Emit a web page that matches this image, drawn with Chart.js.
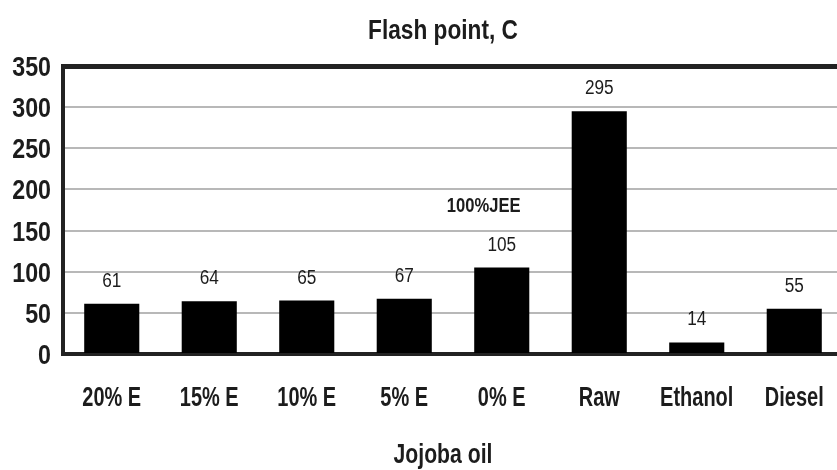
<!DOCTYPE html>
<html>
<head>
<meta charset="utf-8">
<script src="https://cdn.jsdelivr.net/npm/chart.js@4"></script>
<style>
  html, body { margin: 0; padding: 0; background: #fff; overflow: hidden; }
  #wrap { width: 837px; height: 470px; overflow: hidden; }
  canvas { display: block; }
</style>
</head>
<body>
<div id="wrap"><canvas id="c" width="843" height="470"></canvas></div>
<script>
// Flash point of jojoba oil blends and reference fuels
const categories = ['20% E', '15% E', '10% E', '5% E', '0% E', 'Raw', 'Ethanol', 'Diesel'];
const flashPoint = [61, 64, 65, 67, 105, 295, 14, 55];
const noteLabels = ['', '', '', '', '100%JEE', '', '', ''];
const yMin = 0, yMax = 350, yStep = 50;
const chartTitle = 'Flash point, C';
const xTitle = 'Jojoba oil';

const FONT = "'Liberation Sans', Arial, sans-serif";
const INK = '#1c1c1c';

// Text drawn in a narrow, tall face: horizontal squeeze around the anchor point
function narrowText(ctx, text, x, y, font, sx, align) {
  ctx.save();
  ctx.translate(x, y);
  ctx.scale(sx, 1);
  ctx.font = font;
  ctx.textAlign = align;
  ctx.textBaseline = 'alphabetic';
  ctx.fillStyle = INK;
  ctx.fillText(text, 0, 0);
  ctx.restore();
}

const textLayer = {
  id: 'textLayer',
  afterDraw(chart) {
    const ctx = chart.ctx;
    const xs = chart.scales.x, ys = chart.scales.y;
    const area = chart.chartArea;

    // title
    narrowText(ctx, chartTitle, 443, 39, 'bold 28px ' + FONT, 0.81, 'center');

    // y tick labels
    ys.ticks.forEach(t => {
      const y = ys.getPixelForValue(t.value);
      narrowText(ctx, String(t.value), 51, y + 10, 'bold 28px ' + FONT, 0.83, 'right');
    });

    // x tick labels
    categories.forEach((c, i) => {
      narrowText(ctx, c, xs.getPixelForValue(i), area.bottom + 52, 'bold 27px ' + FONT, 0.74, 'center');
    });

    // x axis title
    narrowText(ctx, xTitle, 443, 463, 'bold 27px ' + FONT, 0.785, 'center');

    // value labels and note
    chart.getDatasetMeta(0).data.forEach((bar, i) => {
      narrowText(ctx, String(flashPoint[i]), bar.x, bar.y - 17, '20px ' + FONT, 0.86, 'center');
      if (noteLabels[i]) {
        narrowText(ctx, noteLabels[i], bar.x - 18, bar.y - 56, 'bold 20px ' + FONT, 0.83, 'center');
      }
    });
  }
};

new Chart(document.getElementById('c'), {
  type: 'bar',
  data: {
    labels: categories,
    datasets: [{
      data: flashPoint,
      backgroundColor: '#000',
      borderWidth: 0,
      barPercentage: 0.565,
      categoryPercentage: 1
    }]
  },
  options: {
    responsive: false,
    animation: false,
    layout: { padding: { top: 66, right: 0, bottom: 0, left: 0 } },
    plugins: {
      legend: { display: false },
      tooltip: { enabled: false },
      title: { display: false }
    },
    scales: {
      x: {
        grid: { display: false, drawTicks: false },
        border: { display: true, color: '#222', width: 4 },
        ticks: { display: false },
        afterFit(scale) {
          scale.height = 116;
          scale.paddingLeft = 0;
          scale.paddingRight = 0;
        }
      },
      y: {
        min: yMin,
        max: yMax,
        ticks: { stepSize: yStep, display: false },
        grid: {
          drawTicks: false,
          color: (c) => c.tick && c.tick.value === yMax ? '#222' : '#b8b8b8',
          lineWidth: (c) => c.tick && c.tick.value === yMax ? 5 : 2
        },
        border: { display: true, color: '#222', width: 4 },
        afterFit(scale) {
          scale.width = 63;
          scale.paddingTop = 0;
          scale.paddingBottom = 0;
        }
      }
    }
  },
  plugins: [textLayer]
});
</script>
</body>
</html>
